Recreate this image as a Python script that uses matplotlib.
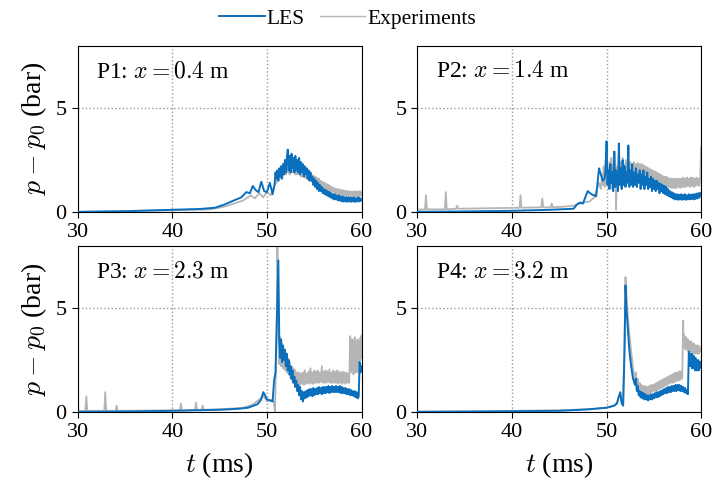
#%%

import numpy as np
import matplotlib
matplotlib.use("Agg")
import matplotlib.pyplot as plt

plt.rcParams['font.family'] = ['Liberation Serif', 'DejaVu Serif']
plt.rcParams['mathtext.fontset'] = 'cm'

#%% data (pressure in bar, time in ms)
# each series: sparse knots (t, p) + dense noisy stretches spread evenly over (t_start, t_end)

labels = ['P1: $x = 0.4$ m', 'P2: $x = 1.4$ m', 'P3: $x = 2.3$ m', 'P4: $x = 3.2$ m']

# --- P1
p1_les_t = [30, 35, 40, 43, 44.5, 45.5, 46.5, 47.3, 47.8, 48.2, 48.5, 48.8, 49.1, 49.4, 49.7, 50.0, 50.3, 50.6]
p1_les_p = [0.0, 0.03, 0.1, 0.14, 0.2, 0.35, 0.55, 0.7, 0.95, 0.9, 1.25, 1.05, 0.95, 1.45, 1.0, 0.95, 1.4, 0.85]
p1_les_span = (50.8, 60.0)
p1_les_noisy = [1.3, 1.9, 1.6, 2.0, 1.5, 2.1, 1.7, 2.2, 1.6, 2.3,
                1.8, 2.5, 1.9, 2.6, 3.0, 2.0, 2.7, 1.9, 2.8, 2.1,
                2.6, 1.9, 2.7, 2.0, 2.5, 1.9, 2.6, 1.8, 2.4, 1.9,
                2.3, 1.7, 2.2, 1.8, 2.1, 1.6, 2.0, 1.5, 1.9, 1.5,
                1.7, 1.3, 1.6, 1.2, 1.5, 1.1, 1.4, 1.0, 1.3, 1.0,
                1.2, 0.9, 1.1, 0.85, 1.05, 0.8, 1.0, 0.75, 0.95, 0.7,
                0.9, 0.65, 0.85, 0.6, 0.85, 0.6, 0.8, 0.55, 0.8, 0.55,
                0.75, 0.5, 0.75, 0.5, 0.7, 0.5, 0.72, 0.48, 0.7, 0.5,
                0.7, 0.48, 0.68, 0.5, 0.7, 0.48, 0.65, 0.5, 0.7, 0.5,
                0.68, 0.52, 0.62]
p1_exp_t = [30, 40, 44, 45.5, 46.5, 47.5, 48.3, 48.7, 49.2, 49.6, 50.0, 50.4, 50.8]
p1_exp_p = [0.0, 0.08, 0.12, 0.25, 0.4, 0.55, 0.8, 0.65, 0.9, 0.7, 0.95, 0.8, 1.3]
p1_exp_span = (51.0, 60.0)
p1_exp_noisy = [1.4, 1.9, 1.5, 2.0, 1.6, 2.1, 1.7, 2.3, 1.8, 2.2,
                1.8, 2.4, 1.9, 2.3, 1.8, 2.4, 1.9, 2.3, 1.9, 2.2,
                1.8, 2.3, 1.8, 2.2, 1.8, 2.2, 1.7, 2.1, 1.7, 2.0,
                1.65, 2.0, 1.6, 1.95, 1.55, 1.9, 1.5, 1.8, 1.45, 1.75,
                1.4, 1.7, 1.35, 1.65, 1.3, 1.6, 1.25, 1.5, 1.2, 1.45,
                1.15, 1.4, 1.1, 1.35, 1.05, 1.3, 1.0, 1.25, 0.98, 1.2,
                0.95, 1.15, 0.9, 1.12, 0.88, 1.1, 0.85, 1.08, 0.82, 1.05,
                0.8, 1.05, 0.8, 1.02, 0.78, 1.0, 0.78, 1.0, 0.76, 0.98,
                0.75, 0.98, 0.75, 1.0, 0.74, 0.98, 0.75, 1.0, 0.76, 0.98, 0.8]

# --- P2
p2_les_t = [30, 35, 40, 44, 46.5, 46.9, 47.2, 47.5, 48.0, 48.4, 48.9, 49.2, 49.6]
p2_les_p = [0.0, 0.02, 0.05, 0.1, 0.15, 0.37, 0.45, 0.4, 1.0, 0.85, 0.75, 2.1, 1.5]
p2_les_span = (49.8, 60.0)
p2_les_noisy = [1.6, 2.1, 3.4, 1.3, 2.0, 1.1, 2.3, 1.4, 1.9, 1.0,
                2.9, 1.2, 2.0, 1.4, 1.0, 3.3, 1.3, 2.1, 1.1, 2.5,
                1.3, 2.2, 1.2, 1.9, 1.4, 3.2, 1.2, 2.0, 1.3, 2.3,
                1.2, 1.9, 1.3, 2.1, 1.2, 1.8, 1.4, 2.0, 1.1, 1.8,
                1.3, 2.0, 1.1, 1.7, 1.3, 1.9, 1.1, 1.6, 1.2, 1.7,
                1.0, 1.6, 1.1, 1.5, 1.0, 1.5, 1.1, 1.4, 0.9, 1.35,
                1.0, 1.3, 0.9, 1.25, 0.85, 1.2, 0.8, 1.1, 0.75, 1.0,
                0.7, 0.95, 0.65, 0.9, 0.6, 0.85, 0.6, 0.85, 0.58, 0.82,
                0.6, 0.85, 0.58, 0.82, 0.6, 0.85, 0.58, 0.8, 0.6, 0.85,
                0.6, 0.82, 0.62, 0.85, 0.6, 0.85, 0.62, 0.88, 0.65, 0.9,
                0.68, 0.92, 0.8]
p2_exp_t = [30, 30.8, 30.9, 31.0, 32.9, 33.0, 33.1, 34.1, 34.2, 34.3, 40.8, 40.9, 41.0,
            43.1, 43.2, 43.3, 44.1, 44.2, 44.3, 45.5, 46.5, 47.5, 48.2, 48.7, 49.2]
p2_exp_p = [0.1, 0.12, 0.8, 0.12, 0.12, 0.95, 0.12, 0.15, 0.3, 0.15, 0.2, 0.8, 0.2,
            0.22, 0.65, 0.22, 0.22, 0.4, 0.22, 0.25, 0.3, 0.45, 0.5, 0.7, 1.4]
p2_exp_span = (49.4, 60.0)
p2_exp_noisy = [1.1, 1.8, 1.3, 2.2, 1.2, 2.5, 1.4, 2.1, 1.2, 2.4,
                1.3, 2.6, 1.1, 2.3, 1.2, 2.9, 0.1, 2.2, 1.3, 2.5,
                1.4, 2.4, 1.5, 2.6, 1.4, 2.3, 1.5, 2.5, 1.6, 2.3,
                1.5, 2.4, 1.6, 2.3, 1.6, 2.4, 1.7, 2.3, 1.6, 2.35,
                1.7, 2.3, 1.6, 2.3, 1.7, 2.25, 1.65, 2.2, 1.6, 2.15,
                1.6, 2.1, 1.55, 2.05, 1.5, 2.0, 1.5, 1.95, 1.45, 1.9,
                1.4, 1.85, 1.35, 1.8, 1.3, 1.75, 1.3, 1.7, 1.25, 1.7,
                1.2, 1.65, 1.2, 1.6, 1.15, 1.6, 1.15, 1.6, 1.15, 1.6,
                1.15, 1.6, 1.2, 1.6, 1.15, 1.6, 1.2, 1.65, 1.2, 1.6,
                1.2, 1.65, 1.25, 1.6, 1.2, 1.65, 1.25, 1.65, 1.2, 1.6,
                1.25, 1.65, 1.3, 1.6, 1.25, 1.7, 3.1]

# --- P3
p3_les_t = [30, 35, 40, 45, 47, 48, 49, 49.4, 49.6, 49.8, 50.0, 50.3, 50.6, 50.75, 50.9, 51.05, 51.2, 51.3]
p3_les_p = [0.0, 0.02, 0.05, 0.1, 0.15, 0.2, 0.37, 0.6, 0.95, 0.8, 0.6, 0.55, 0.5, 1.5, 1.9, 4.5, 7.3, 3.5]
p3_les_span = (51.4, 59.7)
p3_les_noisy = [2.6, 3.5, 2.4, 3.2, 2.5, 3.0, 2.2, 2.8, 2.0, 2.5,
                1.8, 2.2, 1.6, 2.0, 1.4, 1.7, 1.2, 1.5, 1.0, 1.3,
                0.8, 1.2, 0.6, 1.0, 0.5, 0.95, 0.65, 1.0, 0.7, 1.05,
                0.75, 1.1, 0.8, 1.1, 0.75, 1.15, 0.8, 1.1, 0.85, 1.15,
                0.85, 1.2, 0.9, 1.15, 0.85, 1.2, 0.9, 1.2, 0.9, 1.2,
                0.95, 1.25, 0.9, 1.2, 0.95, 1.25, 0.95, 1.2, 0.95, 1.25,
                0.95, 1.2, 0.95, 1.25, 0.9, 1.2, 0.9, 1.15, 0.9, 1.15,
                0.85, 1.1, 0.85, 1.1, 0.8, 1.05, 0.8, 1.0, 0.75, 1.0,
                0.7, 0.95, 0.65, 0.75]
p3_les_end_span = (59.8, 60.0)
p3_les_end = [2.4, 1.9, 2.2]
p3_exp_t = [30, 30.8, 30.9, 31.0, 32.8, 32.9, 33.0, 34.0, 34.1, 34.2, 40.8, 40.9, 41.0,
            42.4, 42.5, 42.6, 43.1, 43.2, 43.3, 44.5, 46, 47.5, 48.5, 49.2, 49.6, 50.0,
            50.4, 50.7, 50.85, 51.0, 51.1, 51.2]
p3_exp_p = [0.05, 0.05, 0.75, 0.05, 0.05, 0.95, 0.05, 0.05, 0.3, 0.05, 0.08, 0.4, 0.08,
            0.1, 0.45, 0.1, 0.1, 0.3, 0.1, 0.12, 0.15, 0.2, 0.35, 0.6, 0.8, 0.5,
            0.6, 0.5, 0.0, 3.0, 8.5, 5.0]
p3_exp_span = (51.3, 58.7)
p3_exp_noisy = [2.3, 3.6, 2.2, 3.3, 2.1, 3.0, 2.0, 2.8, 1.9, 2.6,
                1.8, 2.4, 1.6, 2.2, 1.5, 2.1, 1.4, 2.0, 1.35, 1.9,
                1.3, 1.9, 1.3, 1.85, 1.35, 1.9, 1.3, 2.0, 1.35, 1.85,
                1.4, 1.95, 1.35, 2.1, 1.4, 1.9, 1.35, 2.0, 1.4, 1.95,
                1.4, 2.0, 1.4, 1.9, 1.45, 2.2, 1.4, 1.95, 1.4, 2.0,
                1.4, 1.95, 1.45, 2.05, 1.4, 1.9, 1.4, 2.0, 1.4, 1.95,
                1.4, 2.0, 1.35, 1.95, 1.4, 1.9, 1.35, 1.95, 1.4, 1.9,
                1.35, 1.9, 1.4, 1.85, 1.4]
p3_exp_end_span = (58.8, 60.0)
p3_exp_end = [3.65, 2.2, 3.5, 1.9, 3.3, 2.0, 3.5, 1.8, 3.4, 2.0, 3.6, 1.9, 3.3,
              2.1, 3.4, 1.9, 3.5, 2.0, 3.3, 2.2, 3.4, 2.5, 3.6, 2.6, 3.7]

# --- P4
p4_les_t = [30, 35, 40, 45, 48, 50, 50.8, 51.1, 51.3, 51.45, 51.6, 51.75, 51.9, 52.0, 52.1, 52.25, 52.4, 52.6, 52.8]
p4_les_p = [0.0, 0.01, 0.03, 0.05, 0.12, 0.2, 0.3, 0.4, 0.75, 0.95, 0.4, 0.3, 3.0, 6.1, 5.0, 4.0, 3.0, 2.2, 1.6]
p4_les_span = (53.0, 58.6)
p4_les_noisy = [1.3, 1.6, 1.0, 1.25, 0.8, 1.0, 0.7, 0.95, 0.65, 0.9,
                0.6, 0.85, 0.6, 0.8, 0.55, 0.8, 0.6, 0.85, 0.6, 0.85,
                0.65, 0.9, 0.7, 0.95, 0.7, 0.95, 0.75, 1.0, 0.8, 1.05,
                0.85, 1.1, 0.9, 1.15, 0.9, 1.2, 0.95, 1.2, 0.95, 1.25,
                1.0, 1.25, 1.0, 1.3, 1.0, 1.3, 1.05, 1.3, 1.0, 1.25,
                1.0, 1.2, 0.95, 1.15, 0.9, 1.05, 0.85]
p4_les_end_span = (58.7, 60.0)
p4_les_end = [2.9, 2.3, 2.8, 2.2, 2.7, 2.3, 2.8, 2.1, 2.6, 2.2, 2.7, 2.1, 2.5, 2.0,
              2.6, 2.1, 2.5, 2.0, 2.4, 2.1, 2.5, 2.0, 2.3, 2.1, 2.4, 2.2, 2.2]
p4_exp_t = [30, 35, 40, 45, 48, 50, 50.8, 51.1, 51.3, 51.45, 51.6, 51.75, 51.9, 52.0, 52.1, 52.25, 52.4, 52.6, 52.8]
p4_exp_p = [0.02, 0.03, 0.05, 0.08, 0.12, 0.2, 0.3, 0.45, 0.7, 0.9, 0.5, 0.4, 3.5, 6.5, 5.6, 4.6, 3.8, 2.9, 2.1]
p4_exp_span = (53.0, 58.0)
p4_exp_noisy = [1.5, 1.9, 1.2, 1.6, 1.0, 1.4, 0.9, 1.3, 0.9, 1.25,
                0.85, 1.25, 0.9, 1.2, 0.85, 1.25, 0.9, 1.3, 0.95, 1.3,
                1.0, 1.35, 1.0, 1.4, 1.05, 1.45, 1.1, 1.5, 1.15, 1.55,
                1.2, 1.6, 1.25, 1.65, 1.3, 1.7, 1.35, 1.75, 1.4, 1.8,
                1.4, 1.85, 1.45, 1.9, 1.5, 1.9, 1.5, 1.95, 1.55, 1.95, 1.6]
p4_exp_end_span = (58.1, 60.0)
p4_exp_end = [4.4, 3.3, 3.7, 3.1, 3.6, 3.0, 3.6, 3.1, 3.5, 3.0, 3.5, 2.9, 3.4,
              3.0, 3.4, 2.9, 3.4, 2.9, 3.3, 2.9, 3.3, 2.8, 3.3, 2.9, 3.2, 2.8,
              3.2, 2.9, 3.2, 2.8, 3.1, 2.9, 3.2, 2.8, 3.1, 2.9, 3.1, 3.0, 3.0]

#%% assemble


def series(t, p, *dense):
    # dense = (span, values) pairs, samples spread evenly over the span
    tt, pp = list(t), list(p)
    for span, vals in zip(dense[::2], dense[1::2]):
        tt += list(np.linspace(span[0], span[1], len(vals)))
        pp += list(vals)
    return np.array(tt), np.array(pp)


les = [
    series(p1_les_t, p1_les_p, p1_les_span, p1_les_noisy),
    series(p2_les_t, p2_les_p, p2_les_span, p2_les_noisy),
    series(p3_les_t, p3_les_p, p3_les_span, p3_les_noisy, p3_les_end_span, p3_les_end),
    series(p4_les_t, p4_les_p, p4_les_span, p4_les_noisy, p4_les_end_span, p4_les_end),
]
exp = [
    series(p1_exp_t, p1_exp_p, p1_exp_span, p1_exp_noisy),
    series(p2_exp_t, p2_exp_p, p2_exp_span, p2_exp_noisy),
    series(p3_exp_t, p3_exp_p, p3_exp_span, p3_exp_noisy, p3_exp_end_span, p3_exp_end),
    series(p4_exp_t, p4_exp_p, p4_exp_span, p4_exp_noisy, p4_exp_end_span, p4_exp_end),
]

#%% plot

blue = '#0a6fbd'
grey = '#b5b5b5'

fig, axs = plt.subplots(2, 2, figsize=(7.14, 4.88), dpi=100)
fig.subplots_adjust(left=0.109, right=0.982, top=0.906, bottom=0.156, hspace=0.205, wspace=0.197)

for i, ax in enumerate(axs.flat):
    te, pe = exp[i]
    tl, pl = les[i]
    ax.plot(te, pe, color=grey, lw=1.3, label='Experiments', zorder=2)
    ax.plot(tl, pl, color=blue, lw=1.4, label='LES', zorder=3)
    ax.set_xlim(30, 60)
    ax.set_ylim(0, 8)
    ax.set_xticks([30, 40, 50, 60])
    ax.set_yticks([0, 5])
    ax.grid(True, ls=':', color='#999999', lw=1.0)
    ax.tick_params(direction='out', length=4, labelsize=16, pad=4)
    ax.text(0.065, 0.81, labels[i], transform=ax.transAxes, fontsize=17)
    if i % 2 == 0:
        ax.set_ylabel(r'$p - p_0$ (bar)', fontsize=20, labelpad=5)
    if i >= 2:
        ax.set_xlabel(r'$t$ (ms)', fontsize=20, labelpad=6)

h, l = axs[0, 0].get_legend_handles_labels()
leg = fig.legend([h[1], h[0]], [l[1], l[0]], loc='upper center', ncol=2, frameon=False,
                 fontsize=15.5, bbox_to_anchor=(0.487, 1.022), handlelength=2.1,
                 columnspacing=0.7, handletextpad=0.1)
leg.get_lines()[1].set_linewidth(1.0)

fig.savefig('out.png', dpi=100)
